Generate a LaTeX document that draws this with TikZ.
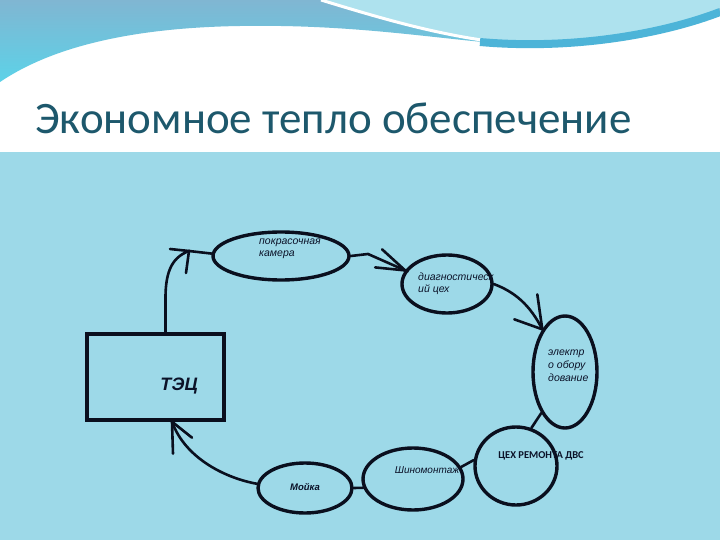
\documentclass[tikz,border=0pt]{standalone}
\usepackage{fontspec}
\setmainfont{Carlito}
\newfontfamily\arialf{Liberation Sans}
\usetikzlibrary{shapes.geometric,arrows.meta}
\definecolor{bodyblue}{HTML}{9DD9E8}
\definecolor{titlecol}{HTML}{1D586C}
\definecolor{waveA}{HTML}{80B6D2}
\definecolor{waveB}{HTML}{5CD2E8}
\definecolor{lightaqua}{HTML}{AEE2EE}
\definecolor{stripecol}{HTML}{4DB4D8}
\definecolor{ink}{HTML}{0A0F1E}
\definecolor{txt}{HTML}{0B1228}
\tikzset{
  ell/.style={ellipse, draw=ink, line width=3.4pt, inner sep=0pt},
  conn/.style={draw=ink, line width=2.6pt, line cap=round},
  lbl/.style={text=txt, inner sep=0pt, anchor=west, align=left, font=\arialf\itshape\fontsize{10.5}{12}\selectfont},
}
\begin{document}
\begin{tikzpicture}[x=1pt,y=-1pt]
\useasboundingbox (0,0) rectangle (720,540);
% background
\fill[white] (0,0) rectangle (720,152);
\fill[bodyblue] (0,152) rectangle (720,540);
\shade[top color=waveA, bottom color=waveB]
  (0,0) -- (720,0) -- (720,13)
  .. controls (680,30) and (600,48) .. (520,45)
  .. controls (440,40) and (360,24) .. (240,26)
  .. controls (110,28) and (40,55) .. (0,82) -- cycle;
\fill[lightaqua] (321,0) .. controls (380,18) and (440,36) .. (510,42)
  .. controls (600,44) and (670,28) .. (720,8) -- (720,0) -- cycle;
\draw[white, line width=3pt] (321,0) .. controls (380,18) and (440,36) .. (505,43);
\draw[stripecol, line width=8pt] (480,42) .. controls (570,50) and (660,35) .. (720,12);

% title
\node[anchor=base west, inner sep=0pt, text=titlecol, font=\fontsize{45}{50}\selectfont] (title) at (35,134) {Экономное тепло обеспечение};

% nodes
\node[draw=ink, line width=3.4pt, minimum width=137pt, minimum height=86pt, inner sep=0pt] (r) at (155.5,377) {};
\node[text=txt, inner sep=0pt, font=\arialf\bfseries\itshape\fontsize{18}{20}\selectfont] (rt) at (179,386) {ТЭЦ};

\node[ell, minimum width=136pt, minimum height=48pt] (e1) at (281,256) {};
\node[lbl] (t1) at (259,249) {покрасочная\\камера};

\node[ell, minimum width=90pt, minimum height=58pt] (e2) at (447,284) {};
\node[lbl] (t2) at (418,284) {диагностическ\\ий цех};

\node[ell, minimum width=64pt, minimum height=112pt] (e3) at (565,372) {};
\node[lbl, font=\arialf\itshape\fontsize{10.5}{13}\selectfont] (t3) at (548,366) {электр\\о обору\\дование};

\node[ell, minimum width=82pt, minimum height=78pt] (c4) at (516,466) {};
\node[text=txt, inner sep=0pt, font=\bfseries\fontsize{10.5}{12}\selectfont] (t4) at (541,456) {ЦЕХ РЕМОНТА ДВС};

\node[ell, minimum width=100pt, minimum height=62pt] (e5) at (413,479) {};
\node[text=txt, inner sep=0pt, font=\arialf\itshape\fontsize{10}{12}\selectfont] (t5) at (427,470) {Шиномонтаж};

\node[ell, minimum width=94pt, minimum height=50pt] (e6) at (305,488) {};
\node[text=txt, inner sep=0pt, font=\arialf\bfseries\itshape\fontsize{9.5}{12}\selectfont] (t6) at (305,487) {Мойка};

% connectors
\coordinate (k1) at (189,251);
\draw[conn] ([xshift=10pt]r.north) -- ++(0,-30) .. controls (165,275) and (170,258) .. (k1) -- (e1.178);
\draw[conn] ([shift={(-19,-2)}]k1) -- (k1) -- ++(-3,22);

\draw[conn] (e1.east) -- (368,254) -- (e2.162);
\draw[conn] ([shift={(-23,-21)}]e2.162) -- (e2.162) -- ++(-30,-3);

\draw[conn] (e2.east) .. controls (515,292) and (530,305) .. (e3.118);
\draw[conn] ([shift={(-5,-35)}]e3.118) -- (e3.118) -- ++(-28,-10);

\draw[conn] (e3.240) -- (c4.68);
\draw[conn] (c4.172) -- (e5.14);
\draw[conn] (e5.190) -- (e6.east);

\coordinate (k4) at ([xshift=16.5pt]r.south);
\draw[conn] (e6.175) .. controls (225,478) and (185,458) .. (k4);
\draw[conn] ([shift={(1,32)}]k4) -- (k4) -- ++(20,16);
\end{tikzpicture}
\end{document}
